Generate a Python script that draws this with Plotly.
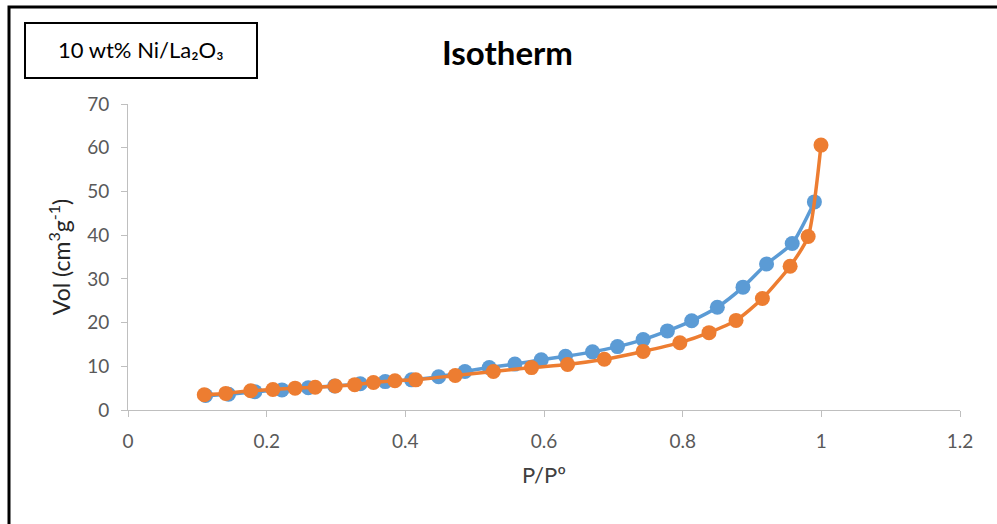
import plotly.graph_objects as go

# Adsorption (blue) and desorption (orange) branches
ads_p = [0.112, 0.145, 0.183, 0.222, 0.260, 0.298, 0.335, 0.371, 0.409, 0.448,
         0.486, 0.521, 0.558, 0.596, 0.631, 0.670, 0.706, 0.743, 0.778, 0.813,
         0.850, 0.887, 0.921, 0.958, 0.990]
ads_v = [3.3, 3.6, 4.2, 4.6, 5.1, 5.5, 6.0, 6.5, 6.9, 7.6,
         8.8, 9.7, 10.5, 11.5, 12.3, 13.3, 14.5, 16.1, 18.1, 20.4,
         23.5, 28.1, 33.4, 38.1, 47.6]

des_p = [0.110, 0.141, 0.177, 0.209, 0.241, 0.270, 0.299, 0.327, 0.354, 0.385,
         0.415, 0.472, 0.527, 0.582, 0.634, 0.687, 0.743, 0.796, 0.838, 0.877,
         0.915, 0.955, 0.981, 0.9995]
des_v = [3.5, 3.8, 4.4, 4.7, 5.0, 5.2, 5.5, 5.8, 6.3, 6.7,
         6.9, 7.9, 8.8, 9.7, 10.4, 11.6, 13.4, 15.4, 17.7, 20.5,
         25.5, 32.9, 39.7, 60.6]

x_ticks = [0, 0.2, 0.4, 0.6, 0.8, 1, 1.2]
x_tick_text = ["0", "0.2", "0.4", "0.6", "0.8", "1", "1.2"]
y_ticks = [0, 10, 20, 30, 40, 50, 60, 70]

BLUE = "#5B9BD5"
ORANGE = "#ED7D31"
FONT = "Lato, 'Open Sans', 'DejaVu Sans', sans-serif"

W, H = 997, 524
L, R, T, B = 128, 37, 104, 114
PW, PH = W - L - R, H - T - B


def px(x):
    return (x - L) / PW


def py(y):
    return (H - B - y) / PH


fig = go.Figure()
fig.add_trace(go.Scatter(
    x=ads_p, y=ads_v, mode="lines+markers",
    line=dict(color=BLUE, width=3.5, shape="spline", smoothing=0.6),
    marker=dict(color=BLUE, size=15), showlegend=False, cliponaxis=False))
fig.add_trace(go.Scatter(
    x=des_p, y=des_v, mode="lines+markers",
    line=dict(color=ORANGE, width=3.5, shape="spline", smoothing=0.6),
    marker=dict(color=ORANGE, size=15), showlegend=False, cliponaxis=False))

fig.update_layout(
    width=W, height=H,
    margin=dict(l=L, r=R, t=T, b=B),
    paper_bgcolor="white", plot_bgcolor="white",
    font=dict(family=FONT, color="#595959"),
    xaxis=dict(range=[0, 1.2], tickvals=x_ticks, ticktext=x_tick_text,
               showgrid=False, zeroline=False, showline=True,
               linecolor="#BFBFBF", linewidth=1, ticks="outside",
               tickcolor="#BFBFBF", ticklen=6, tickfont=dict(size=19),
               ticklabelstandoff=8,
               title=dict(text="P/Pº", font=dict(size=22, color="#404040"),
                          standoff=16)),
    yaxis=dict(range=[0, 70], tickvals=y_ticks,
               showgrid=False, zeroline=False, showline=True,
               linecolor="#BFBFBF", linewidth=1, ticks="outside",
               tickcolor="#BFBFBF", ticklen=6, tickfont=dict(size=19),
               ticklabelstandoff=8,
               title=dict(text="Vol (cm<sup>3</sup>g<sup>-1</sup>)",
                          font=dict(size=23, color="#262626"), standoff=10)),
    shapes=[
        dict(type="rect", xref="paper", yref="paper",
             x0=px(9), x1=px(1010), y0=py(540), y1=py(7),
             line=dict(color="black", width=3), fillcolor="rgba(0,0,0,0)"),
        dict(type="rect", xref="paper", yref="paper",
             x0=px(25), x1=px(257), y0=py(78), y1=py(23),
             line=dict(color="black", width=2), fillcolor="white"),
    ],
    annotations=[
        dict(text="<b>Isotherm</b>", xref="paper", yref="paper",
             x=px(507), y=py(52), xanchor="center", yanchor="middle",
             showarrow=False,
             font=dict(size=33, color="black", family=FONT)),
        dict(text="10 wt% Ni/La₂O₃", xref="paper", yref="paper",
             x=px(141), y=py(50), xanchor="center", yanchor="middle",
             showarrow=False,
             font=dict(size=22, color="black", family=FONT)),
    ],
)

fig.write_html("out.html")
